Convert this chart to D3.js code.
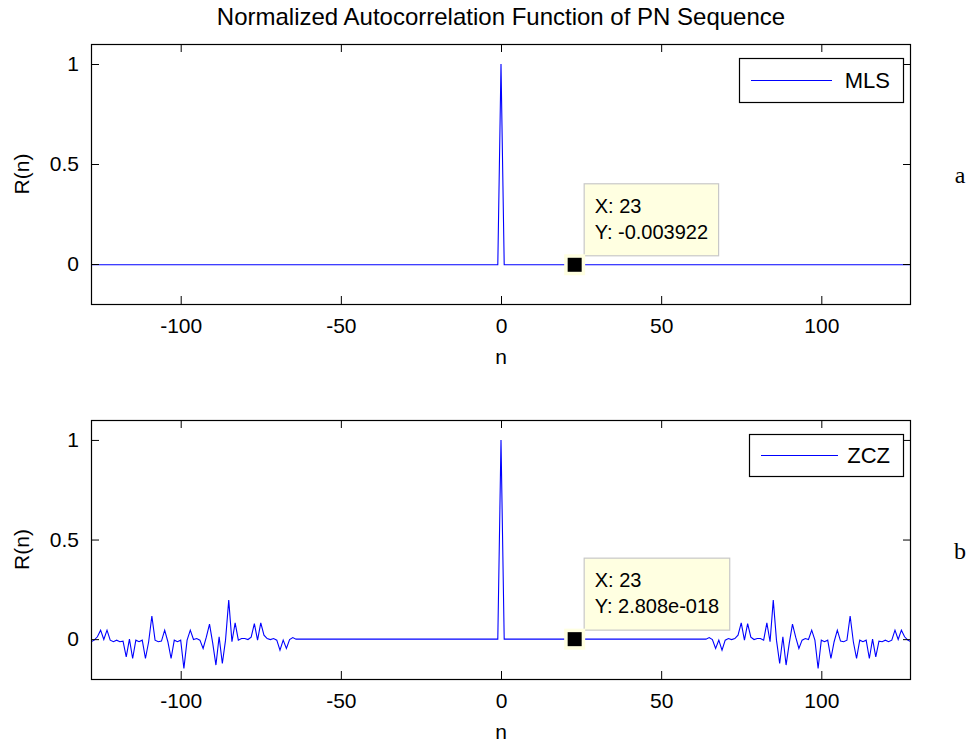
<!DOCTYPE html>
<html><head><meta charset="utf-8">
<script src="https://cdn.jsdelivr.net/npm/d3@7"></script>
<style>body{margin:0;background:#fff;} svg{display:block;} text{font-family:"Liberation Sans",Arial,Helvetica,sans-serif;fill:#000;}</style>
</head><body><svg id="c" width="973" height="747"></svg>
<script>
// ---- data ----
const titleText = "Normalized Autocorrelation Function of PN Sequence";
const xTicks = [-100, -50, 0, 50, 100];
const yTicks = [0, 0.5, 1];
const xDomain = [-128, 128];
const yDomain = [-0.2, 1.1];
const lags = d3.range(-128, 129);
const mlsPeak = 1;
const mlsOffPeak = -0.003922;
const zczPeak = 1;
const zczZoneEnd = 63;
// ZCZ side-lobe values for n = 64..128 (R(-n) = R(n))
const zczTail = [
  0, 0.008, -0.002, -0.047, -0.005, -0.055, -0.005, 0.003, -0.002, 0.003,
  0.02, 0.082, -0.005, 0.078, 0.01, -0.002, 0.003, 0.003, -0.005, 0.082,
  -0.013, 0.196, -0.005, -0.122, 0.012, -0.13, -0.02, 0.075, 0.01, -0.047,
  -0.005, 0.003, -0.002, 0.045, -0.005, -0.147, -0.005, -0.013, -0.005, -0.097,
  -0.013, 0.045, -0.01, -0.013, -0.005, 0.116, -0.013, -0.097, -0.005, -0.013,
  -0.005, -0.097, 0, -0.089, -0.01, -0.013, -0.005, -0.013, -0.005, 0.045,
  -0.002, 0.045, 0.012, -0.005, -0.013
];
const mls = lags.map(n => n === 0 ? mlsPeak : mlsOffPeak);
const zcz = lags.map(n => {
  const a = Math.abs(n);
  if (a === 0) return zczPeak;
  if (a <= zczZoneEnd) return 2.808e-18;
  return zczTail[a - 64];
});
const panels = [
  {name: "MLS", values: mls, tipX: 23, tipY: mlsOffPeak, tipLabelX: "X: 23", tipLabelY: "Y: -0.003922", letter: "a"},
  {name: "ZCZ", values: zcz, tipX: 23, tipY: 2.808e-18, tipLabelX: "X: 23", tipLabelY: "Y: 2.808e-018", letter: "b"}
];

// ---- layout ----
const svg = d3.select("#c");
const L = 91, R = 911;
const boxes = [{top: 44, bottom: 304, legend: {x: 739, y: 58, w: 164, h: 44}},
               {top: 420, bottom: 679, legend: {x: 749, y: 434, w: 154, h: 42}}];
const fs = 21;

svg.append("text").attr("x", (L + R) / 2).attr("y", 25).attr("text-anchor", "middle")
  .style("font-size", "24px").text(titleText);

panels.forEach((p, i) => {
  const b = boxes[i];
  const x = d3.scaleLinear().domain(xDomain).range([L, R]);
  const y = d3.scaleLinear().domain(yDomain).range([b.bottom, b.top]);
  const g = svg.append("g");
  const clipId = "clip" + i;
  g.append("clipPath").attr("id", clipId).append("rect")
    .attr("x", L).attr("y", b.top).attr("width", R - L).attr("height", b.bottom - b.top);

  // line
  g.append("path").datum(lags.map((n, k) => [n, p.values[k]]))
    .attr("clip-path", `url(#${clipId})`)
    .attr("fill", "none").attr("stroke", "#0000ff").attr("stroke-width", 1.1)
    .attr("d", d3.line().x(d => x(d[0])).y(d => y(d[1])));

  // axes
  const tk = 8;
  const axB = d3.axisBottom(x).tickValues(xTicks).tickSizeInner(-tk).tickSizeOuter(0).tickPadding(tk + 6).tickFormat(d => String(d));
  const axT = d3.axisTop(x).tickValues(xTicks).tickSizeInner(-tk).tickSizeOuter(0).tickFormat("");
  const axLft = d3.axisLeft(y).tickValues(yTicks).tickSizeInner(-tk).tickSizeOuter(0).tickPadding(tk + 4).tickFormat(d => String(d));
  const axRt = d3.axisRight(y).tickValues(yTicks).tickSizeInner(-tk).tickSizeOuter(0).tickFormat("");
  [[axB, `translate(0,${b.bottom})`], [axT, `translate(0,${b.top})`], [axLft, `translate(${L},0)`], [axRt, `translate(${R},0)`]]
    .forEach(([ax, tr]) => {
      const a = g.append("g").attr("transform", tr).call(ax);
      a.select(".domain").remove();
      a.selectAll("line").attr("stroke", "#000");
      a.selectAll("text").style("font-size", fs + "px").style("font-family", '"Liberation Sans",Arial,sans-serif').attr("fill", "#000");
    });
  g.append("rect").attr("x", L + 0.5).attr("y", b.top + 0.5).attr("width", R - L - 1).attr("height", b.bottom - b.top)
    .attr("fill", "none").attr("stroke", "#000").attr("stroke-width", 1.2);

  // axis labels
  g.append("text").attr("x", (L + R) / 2).attr("y", b.bottom + 60).attr("text-anchor", "middle")
    .style("font-size", fs + "px").text("n");
  g.append("text").attr("transform", `translate(29,${(b.top + b.bottom) / 2}) rotate(-90)`).attr("text-anchor", "middle")
    .style("font-size", fs + "px").text("R(n)");

  // legend
  const lg = b.legend;
  g.append("rect").attr("x", lg.x + 0.5).attr("y", lg.y + 0.5).attr("width", lg.w).attr("height", lg.h)
    .attr("fill", "#fff").attr("stroke", "#000").attr("stroke-width", 1.2);
  g.append("line").attr("x1", lg.x + 12).attr("x2", lg.x + (i === 0 ? 93 : 89)).attr("y1", lg.y + lg.h / 2 + 0.5).attr("y2", lg.y + lg.h / 2 + 0.5)
    .attr("stroke", "#0000ff").attr("stroke-width", 1.1);
  g.append("text").attr("x", lg.x + lg.w - 13).attr("y", lg.y + lg.h / 2 + 8).attr("text-anchor", "end")
    .style("font-size", "22px").text(p.name);

  // data tip
  const mx = x(p.tipX), my = y(p.tipY);
  const tg = g.append("g");
  const t1 = tg.append("text").attr("x", mx + 20).attr("y", my - 52).style("font-size", "20px").text(p.tipLabelX);
  const t2 = tg.append("text").attr("x", mx + 20).attr("y", my - 26).style("font-size", "20px").text(p.tipLabelY);
  const w = Math.max(t1.node().getComputedTextLength(), t2.node().getComputedTextLength()) + 21;
  tg.insert("rect", "text").attr("x", mx + 9.5).attr("y", my - 81).attr("width", w).attr("height", 72)
    .attr("fill", "#ffffe1").attr("stroke", "#c8c8c8").attr("stroke-width", 1.2);
  g.append("rect").attr("x", mx - 10.5).attr("y", my - 10.5).attr("width", 21).attr("height", 21).attr("fill", "#ffffe1");
  g.append("rect").attr("x", mx - 7).attr("y", my - 7).attr("width", 14).attr("height", 14).attr("fill", "#000");

  // panel letter
  svg.append("text").attr("x", 960).attr("y", (b.top + b.bottom) / 2 + 9).attr("text-anchor", "middle")
    .style("font-family", '"Liberation Serif","Times New Roman",serif').style("font-size", "24px").text(p.letter);
});
</script></body></html>
